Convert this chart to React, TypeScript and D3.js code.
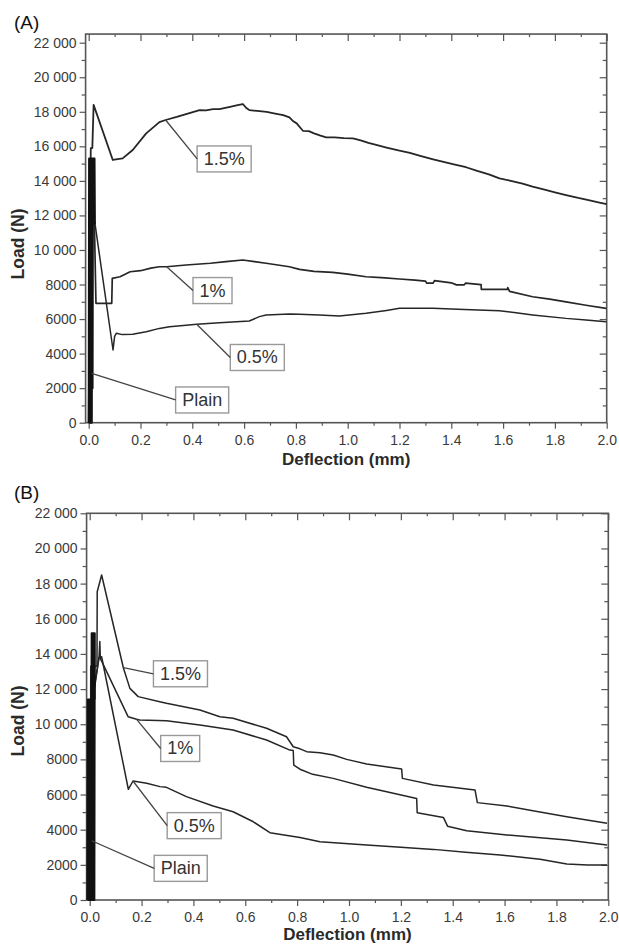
import { useEffect, useRef } from "react";
import * as d3 from "d3";

// axis ticks
const xTickValues = [0, 0.2, 0.4, 0.6, 0.8, 1.0, 1.2, 1.4, 1.6, 1.8, 2.0];
const xTickLabels = ["0.0", "0.2", "0.4", "0.6", "0.8", "1.0", "1.2", "1.4", "1.6", "1.8", "2.0"];
const yTickValues = [0, 2000, 4000, 6000, 8000, 10000, 12000, 14000, 16000, 18000, 20000, 22000];
const yTickLabels = ["0", "2000", "4000", "6000", "8000", "10 000", "12 000", "14 000", "16 000", "18 000", "20 000", "22 000"];
const seriesNames = ["1.5%", "1%", "0.5%", "Plain"];

// (A) deflection (mm), load (N)
const a15 = [
  [0, 0], [0.008, 15900], [0.014, 15900], [0.019, 18400], [0.093, 15210], [0.131, 15300],
  [0.17, 15790], [0.222, 16750], [0.273, 17400], [0.297, 17525], [0.34, 17700], [0.376, 17870],
  [0.428, 18100], [0.453, 18080], [0.48, 18150], [0.505, 18160], [0.55, 18300], [0.575, 18380],
  [0.595, 18450], [0.61, 18200], [0.62, 18100], [0.65, 18050], [0.687, 18000], [0.72, 17900],
  [0.751, 17810], [0.775, 17680], [0.79, 17450], [0.803, 17330], [0.827, 16900], [0.85, 16880],
  [0.87, 16750], [0.895, 16620], [0.917, 16520], [0.95, 16520], [0.985, 16480], [1.02, 16460],
  [1.05, 16350], [1.08, 16200], [1.11, 16080], [1.15, 15930], [1.2, 15750], [1.24, 15620],
  [1.28, 15450], [1.33, 15250], [1.37, 15100], [1.41, 14960], [1.457, 14790], [1.5, 14580],
  [1.545, 14380], [1.586, 14150], [1.63, 14000], [1.675, 13840], [1.714, 13670], [1.76, 13500],
  [1.8, 13340], [1.843, 13180], [1.89, 13010], [1.93, 12880], [1.972, 12740], [2.0, 12650],
];
const a10 = [
  [0.001, 0], [0.006, 11550], [0.022, 11550], [0.028, 6910], [0.089, 6910], [0.091, 8360],
  [0.121, 8450], [0.16, 8740], [0.2, 8800], [0.24, 8950], [0.273, 9030], [0.301, 9030],
  [0.376, 9130], [0.47, 9230], [0.53, 9330], [0.595, 9420], [0.64, 9330], [0.685, 9230],
  [0.775, 9030], [0.814, 8880], [0.87, 8760], [0.942, 8700], [1.0, 8600], [1.071, 8450],
  [1.13, 8400], [1.2, 8320], [1.26, 8250], [1.3, 8200], [1.305, 8080], [1.33, 8080],
  [1.335, 8220], [1.4, 8100], [1.42, 7980], [1.45, 7980], [1.455, 8080], [1.515, 7990],
  [1.516, 7720], [1.617, 7720], [1.618, 7820], [1.625, 7600], [1.714, 7290], [1.78, 7150],
  [1.843, 7000], [1.92, 6800], [1.998, 6620],
];
const a05 = [
  [0, 0], [0.01, 11500], [0.024, 11550], [0.094, 4210], [0.1, 5000], [0.107, 5180],
  [0.13, 5100], [0.17, 5120], [0.222, 5270], [0.273, 5460], [0.312, 5560], [0.376, 5640],
  [0.417, 5700], [0.505, 5790], [0.62, 5890], [0.659, 6140], [0.685, 6240], [0.775, 6300],
  [0.814, 6280], [0.89, 6240], [0.968, 6180], [1.071, 6330], [1.15, 6500], [1.2, 6620],
  [1.328, 6620], [1.45, 6560], [1.586, 6480], [1.65, 6360], [1.714, 6240], [1.843, 6040],
  [1.92, 5950], [1.998, 5850],
];
const aPlain = [
  [0, 0], [0.0015, 15300], [0.003, 0], [0.0045, 15300], [0.006, 0], [0.0075, 15300],
  [0.009, 0], [0.0105, 15300], [0.012, 0], [0.0135, 15300], [0.015, 2000], [0.0165, 15300],
  [0.018, 11500], [0.0195, 15300], [0.021, 11500], [0.0225, 15300], [0.024, 11500],
];

// (B)
const b15 = [
  [0.002, 0], [0.004, 13300], [0.028, 13300], [0.029, 17540], [0.046, 18490], [0.13, 13200],
  [0.155, 12040], [0.187, 11570], [0.27, 11280], [0.296, 11190], [0.425, 10810], [0.502, 10430],
  [0.553, 10340], [0.682, 9770], [0.759, 9290], [0.785, 8720], [0.811, 8600], [0.837, 8440],
  [0.888, 8380], [0.939, 8250], [0.991, 8000], [1.068, 7740], [1.203, 7450], [1.206, 6920],
  [1.326, 6540], [1.486, 6260], [1.495, 5540], [1.609, 5350], [1.72, 5050], [1.84, 4740],
  [1.995, 4360],
];
const b10 = [
  [0, 0], [0.01, 11400], [0.036, 13800], [0.039, 14700], [0.041, 13750], [0.148, 10430],
  [0.181, 10280], [0.193, 10240], [0.296, 10200], [0.425, 9960], [0.553, 9670], [0.682, 9100],
  [0.772, 8530], [0.785, 8500], [0.787, 7680], [0.811, 7440], [0.86, 7150], [0.939, 6920],
  [1.068, 6410], [1.261, 5780], [1.263, 4970], [1.364, 4700], [1.38, 4200], [1.454, 3940],
  [1.609, 3700], [1.84, 3410], [1.995, 3130],
];
const b05 = [
  [0, 0], [0.012, 11400], [0.036, 13800], [0.046, 13840], [0.149, 6300], [0.167, 6770],
  [0.22, 6640], [0.271, 6450], [0.296, 6410], [0.373, 5880], [0.476, 5350], [0.553, 5020],
  [0.631, 4450], [0.695, 3830], [0.75, 3700], [0.811, 3560], [0.888, 3320], [1.068, 3130],
  [1.2, 3000], [1.326, 2880], [1.45, 2720], [1.583, 2560], [1.737, 2320], [1.84, 2050],
  [1.92, 1990], [1.995, 1990],
];
const bPlain = [
  [-0.009, 0], [-0.0075, 11400], [-0.006, 0], [-0.0045, 11400], [-0.003, 0], [-0.0015, 11400],
  [0, 0], [0.0015, 11400], [0.003, 0], [0.0045, 11400], [0.006, 0], [0.0075, 15170],
  [0.009, 0], [0.0105, 15170], [0.012, 0], [0.0135, 15170], [0.015, 0], [0.0165, 15170],
  [0.018, 0], [0.0195, 15170], [0.02, 11400],
];

// label callouts: point on the curve, then box centre (data units)
const notesA = [
  { ax: 0.297, ay: 17525, bx: 0.523, by: 15270 },
  { ax: 0.301, ay: 9030, bx: 0.478, by: 7650 },
  { ax: 0.417, ay: 5700, bx: 0.651, by: 3775 },
  { ax: 0.0116, ay: 2860, bx: 0.438, by: 1315 },
];
const notesB = [
  { ax: 0.13, ay: 13220, bx: 0.35, by: 12870 },
  { ax: 0.181, ay: 10280, bx: 0.349, by: 8620 },
  { ax: 0.167, ay: 6770, bx: 0.403, by: 4230 },
  { ax: 0.0077, ay: 3370, bx: 0.351, by: 1800 },
];

const FONT = "'Liberation Sans', Arial, Helvetica, sans-serif";
const AXIS = "#555";
const INK = "#262626";

function drawPanel(svg, p) {
  const x = d3.scaleLinear().domain([0, 2]).range([p.left, p.right]);
  const y = d3.scaleLinear().domain([0, 22000]).range([p.bottom, p.top]);
  const fl = x(-0.012);
  const fr = x(2);
  const ft = y(p.yMax);
  const fb = y(0);
  const g = svg.append("g");

  const styleAxis = (sel) => {
    sel.select(".domain").remove();
    sel.selectAll("line").attr("stroke", AXIS).attr("stroke-width", 1.2);
    sel.selectAll("text")
      .attr("fill", "#3a3a3a")
      .style("font-size", "14px")
      .style("font-family", FONT);
  };

  const minorX = d3.range(0.1, 2, 0.2);
  const minorY = d3.range(1000, p.yMax, 2000);

  // left (outward)
  g.append("g").attr("transform", `translate(${fl},0)`)
    .call(d3.axisLeft(y).tickValues(yTickValues).tickSize(6).tickPadding(3)
      .tickFormat((d, i) => yTickLabels[i]))
    .call(styleAxis);
  g.append("g").attr("transform", `translate(${fl},0)`)
    .call(d3.axisLeft(y).tickValues(minorY).tickSize(4).tickFormat(""))
    .call(styleAxis);
  // bottom (outward)
  g.append("g").attr("transform", `translate(0,${fb})`)
    .call(d3.axisBottom(x).tickValues(xTickValues).tickSize(6).tickPadding(6)
      .tickFormat((d, i) => xTickLabels[i]))
    .call(styleAxis);
  g.append("g").attr("transform", `translate(0,${fb})`)
    .call(d3.axisBottom(x).tickValues(minorX).tickSize(3).tickFormat(""))
    .call(styleAxis);
  // top + right (inward)
  g.append("g").attr("transform", `translate(0,${ft})`)
    .call(d3.axisBottom(x).tickValues(xTickValues).tickSize(7).tickFormat(""))
    .call(styleAxis);
  g.append("g").attr("transform", `translate(0,${ft})`)
    .call(d3.axisBottom(x).tickValues(minorX).tickSize(3).tickFormat(""))
    .call(styleAxis);
  g.append("g").attr("transform", `translate(${fr},0)`)
    .call(d3.axisLeft(y).tickValues(yTickValues.filter((v) => v > 0)).tickSize(7).tickFormat(""))
    .call(styleAxis);
  g.append("g").attr("transform", `translate(${fr},0)`)
    .call(d3.axisLeft(y).tickValues(minorY).tickSize(4).tickFormat(""))
    .call(styleAxis);

  // frame
  g.append("rect")
    .attr("x", fl).attr("y", ft)
    .attr("width", fr - fl).attr("height", fb - ft)
    .attr("fill", "none").attr("stroke", AXIS).attr("stroke-width", 1.6);

  // curves
  const line = d3.line().x((d) => x(d[0])).y((d) => y(d[1]));
  p.series.forEach((s, i) => {
    g.append("path")
      .datum(s)
      .attr("fill", "none")
      .attr("stroke", i === 3 ? "#111" : INK)
      .attr("stroke-width", i === 3 ? 2 : p.widths[i])
      .attr("stroke-linejoin", "round")
      .attr("d", line);
  });

  // callouts
  p.notes.forEach((n, i) => {
    const t = g.append("text")
      .attr("x", x(n.bx)).attr("y", y(n.by))
      .attr("text-anchor", "middle")
      .attr("dominant-baseline", "central")
      .attr("fill", "#333")
      .style("font-size", "18px")
      .style("font-family", FONT)
      .text(seriesNames[i]);
    const bb = t.node().getBBox();
    const w = bb.width + 13;
    const h = 26;
    const bxl = x(n.bx) - w / 2;
    g.insert("rect", () => t.node())
      .attr("x", bxl).attr("y", y(n.by) - h / 2)
      .attr("width", w).attr("height", h)
      .attr("fill", "#fff").attr("stroke", "#999").attr("stroke-width", 1.4);
    g.append("line")
      .attr("x1", x(n.ax)).attr("y1", y(n.ay))
      .attr("x2", bxl).attr("y2", y(n.by))
      .attr("stroke", "#444").attr("stroke-width", 1.3);
  });

  // titles
  g.append("text")
    .attr("x", (fl + fr) / 2).attr("y", p.titleY)
    .attr("text-anchor", "middle")
    .attr("fill", "#2a2a2a")
    .style("font-size", "17px").style("font-weight", "bold").style("font-family", FONT)
    .text("Deflection (mm)");
  g.append("text")
    .attr("transform", `translate(24,${p.loadY}) rotate(-90)`)
    .attr("text-anchor", "middle")
    .attr("fill", "#2a2a2a")
    .style("font-size", "17.5px").style("font-weight", "bold").style("font-family", FONT)
    .text("Load (N)");
  g.append("text")
    .attr("x", 14).attr("y", p.tagY)
    .attr("fill", "#111")
    .style("font-size", "19px").style("font-family", FONT)
    .text(p.tag);
}

const App = () => {
  const svgRef = useRef(null);

  useEffect(() => {
    const svg = d3.select(svgRef.current);
    svg.selectAll("*").remove();

    const panels = [
      {
        tag: "(A)", tagY: 29, left: 88.7, right: 606.7, bottom: 422.7, top: 42.7, yMax: 22500,
        titleY: 465, loadY: 244, series: [a15, a10, a05, aPlain], widths: [1.8, 1.7, 1.5], notes: notesA,
      },
      {
        tag: "(B)", tagY: 499, left: 89.7, right: 608.3, bottom: 900, top: 513.3, yMax: 22000,
        titleY: 940, loadY: 721, series: [b15, b10, b05, bPlain], widths: [1.5, 1.5, 1.5], notes: notesB,
      },
    ];
    panels.forEach((p) => drawPanel(svg, p));
  }, []);

  return (
    <svg
      ref={svgRef}
      width={619}
      height={945}
      style={{ position: "absolute", left: 0, top: 0, background: "#fff" }}
    />
  );
};

export default App;
